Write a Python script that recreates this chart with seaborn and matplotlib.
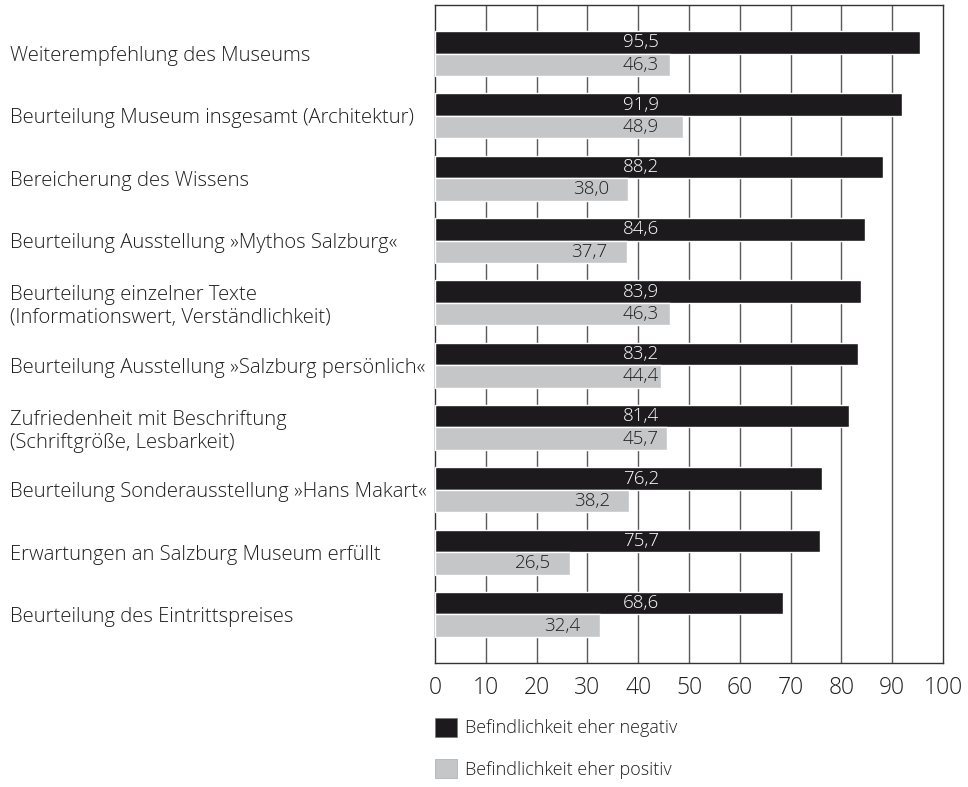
import matplotlib
matplotlib.use("Agg")
import matplotlib.pyplot as plt
from matplotlib.patches import Patch
import seaborn as sns
import pandas as pd

categories = [
    "Weiterempfehlung des Museums",
    "Beurteilung Museum insgesamt (Architektur)",
    "Bereicherung des Wissens",
    "Beurteilung Ausstellung »Mythos Salzburg«",
    "Beurteilung einzelner Texte\n(Informationswert, Verständlichkeit)",
    "Beurteilung Ausstellung »Salzburg persönlich«",
    "Zufriedenheit mit Beschriftung\n(Schriftgröße, Lesbarkeit)",
    "Beurteilung Sonderausstellung »Hans Makart«",
    "Erwartungen an Salzburg Museum erfüllt",
    "Beurteilung des Eintrittspreises",
]
negativ = [95.5, 91.9, 88.2, 84.6, 83.9, 83.2, 81.4, 76.2, 75.7, 68.6]
positiv = [46.3, 48.9, 38.0, 37.7, 46.3, 44.4, 45.7, 38.2, 26.5, 32.4]
series_names = ["Befindlichkeit eher negativ", "Befindlichkeit eher positiv"]
x_ticks = list(range(0, 101, 10))

BLACK = "#1c1a1d"
GREY = "#c5c6c8"
FRAME = "#333333"
GRID = "#5a5a5a"
TEXT = "#1e1e1e"

sns.set_theme(style="white")
plt.rcParams["font.family"] = ["Open Sans", "DejaVu Sans"]
plt.rcParams["font.weight"] = "light"

df = pd.DataFrame({
    "Kategorie": categories * 2,
    "Wert": negativ + positiv,
    "Reihe": [series_names[0]] * len(categories) + [series_names[1]] * len(categories),
})

W, H = 968, 787
fig = plt.figure(figsize=(W / 100, H / 100), dpi=100)
ax = fig.add_axes([435 / W, 1 - 663 / H, (943 - 435) / W, (663 - 5) / H])

sns.barplot(
    data=df, y="Kategorie", x="Wert", hue="Reihe", orient="h",
    palette=[BLACK, GREY], saturation=1, width=0.72, gap=0,
    dodge=True, legend=False, ax=ax, zorder=3,
)

ax.set_xlim(0, 100)
ax.set_ylim(len(categories) - 1 + 0.78, -0.78)
ax.set_xticks(x_ticks)
ax.set_xticklabels([str(t) for t in x_ticks], fontsize=16.5, color=TEXT,
                   fontweight="light")
ax.tick_params(axis="x", length=0, pad=9)
ax.set_xlabel("")
ax.set_ylabel("")

# vertical grid lines every 10 units
for t in x_ticks[1:-1]:
    ax.axvline(t, color=GRID, lw=1.0, zorder=1)
for sp in ax.spines.values():
    sp.set_visible(True)
    sp.set_color(FRAME)
    sp.set_linewidth(1.0)

# category labels, left aligned near the figure edge
ax.set_yticks(range(len(categories)))
ax.set_yticklabels(categories, fontsize=14.6, color=TEXT, ha="left",
                   multialignment="left", fontweight="light")
ax.tick_params(axis="y", length=0, pad=(435 - 10) * 0.72)

# value labels inside the bars
text_colors = ["white", TEXT]
for container, values, tc in zip(ax.containers, [negativ, positiv], text_colors):
    for bar, v in zip(container, values):
        yc = bar.get_y() + bar.get_height() / 2
        xpos = 40.5 if v > 43 else v - 7.3
        ax.text(xpos, yc, f"{v:.1f}".replace(".", ","), ha="center", va="center",
                fontsize=13.5, color=tc, zorder=4, fontweight="light")

handles = [Patch(facecolor=BLACK, edgecolor="#777777", lw=0.5),
           Patch(facecolor=GREY, edgecolor="#aaaaaa", lw=0.5)]
fig.legend(handles, series_names, loc="upper left",
           bbox_to_anchor=(435 / W, 1 - 718 / H), frameon=False,
           prop={"size": 13, "weight": "light"},
           handlelength=1.22, handleheight=1.22,
           labelspacing=1.22, handletextpad=0.44, borderpad=0, borderaxespad=0,
           labelcolor=TEXT)

fig.savefig("out.png", dpi=100)
